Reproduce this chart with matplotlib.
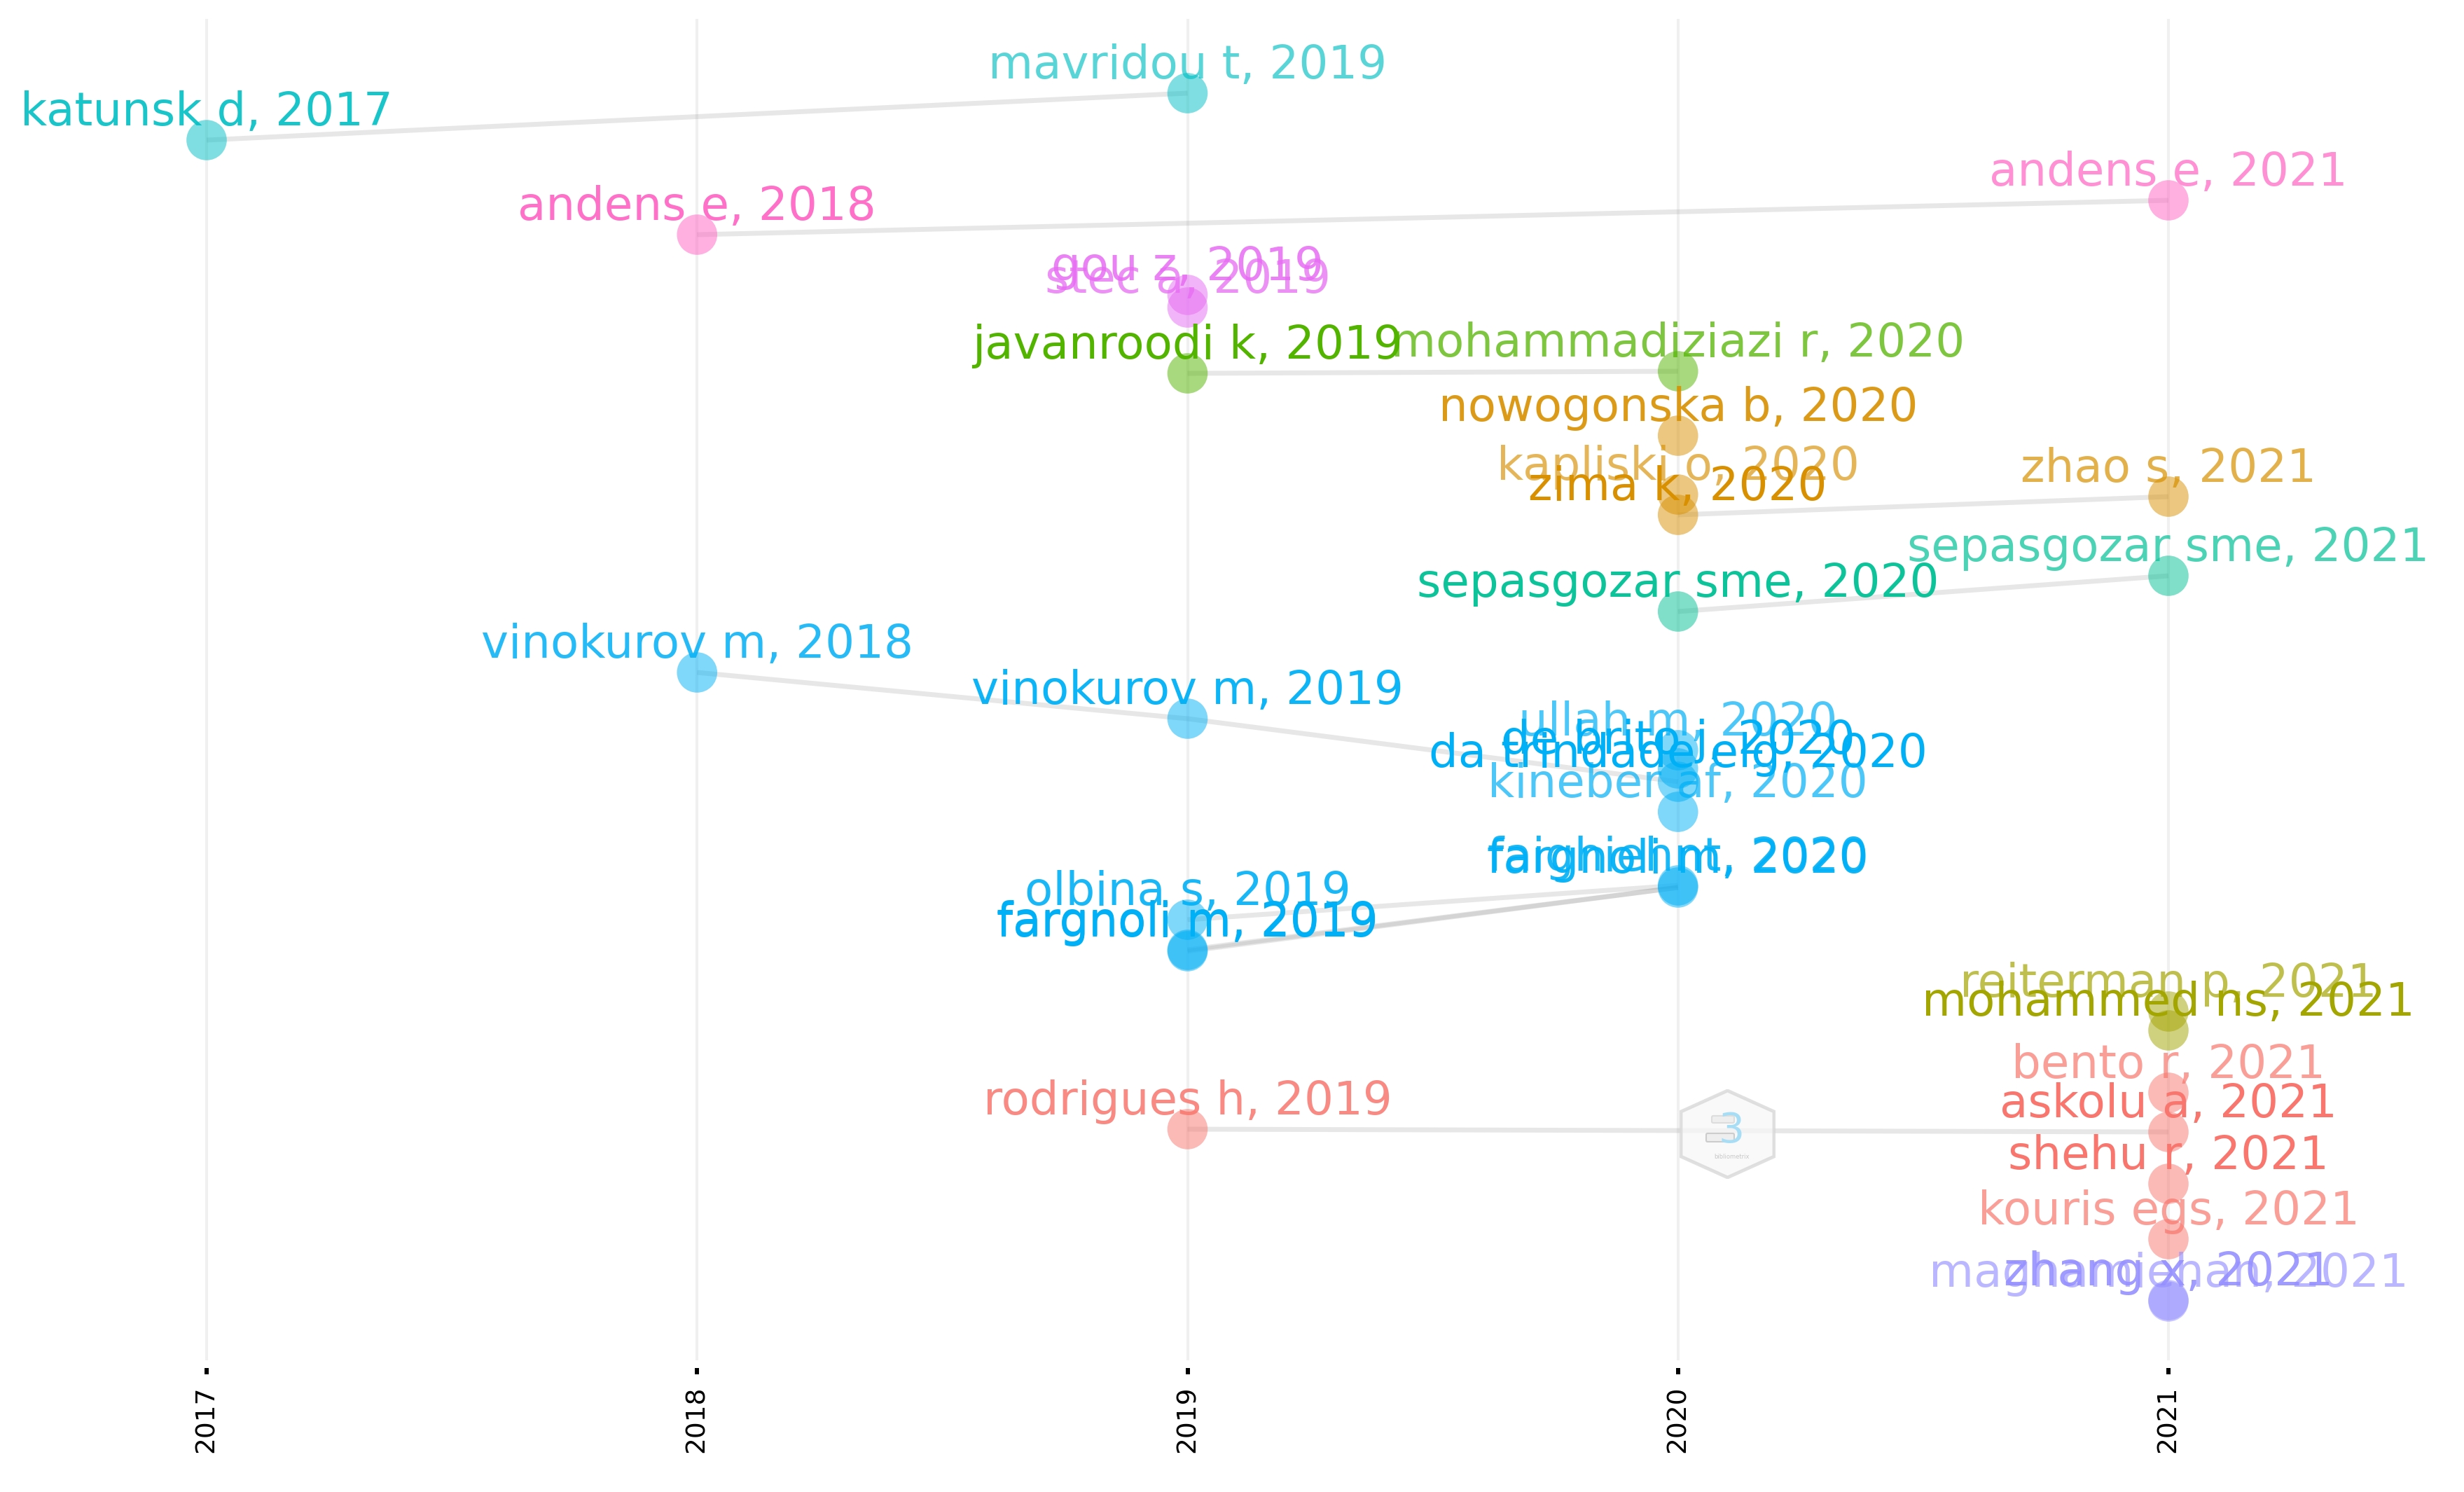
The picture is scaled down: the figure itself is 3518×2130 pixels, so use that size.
import matplotlib
matplotlib.use('Agg')
import matplotlib.pyplot as plt
from matplotlib.patches import Polygon, FancyBboxPatch

# node tables: label, publication year, layout position (picture px), colour, label alpha
labels = ['katunsk d, 2017', 'mavridou t, 2019', 'andens e, 2018', 'andens e, 2021',
          'gou z, 2019', 'stec a, 2019', 'javanroodi k, 2019', 'mohammadiziazi r, 2020',
          'nowogonska b, 2020', 'kapliski o, 2020', 'zima k, 2020', 'zhao s, 2021',
          'sepasgozar sme, 2020', 'sepasgozar sme, 2021', 'vinokurov m, 2018', 'vinokurov m, 2019',
          'ullah m, 2020', 'de brito j, 2020', 'da trindade elg, 2020', 'kineber af, 2020',
          'fargnoli m, 2020', 'faighiehnt, 2020', 'olbina s, 2019', 'fargnoli m, 2019',
          'fargnoli m, 2019', 'reiterman p, 2021', 'mohammed ns, 2021', 'rodrigues h, 2019',
          'bento r, 2021', 'askolu a, 2021', 'shehu r, 2021', 'kouris egs, 2021',
          'zhang x, 2021', 'maghamiehan, 2021']
years = [2017, 2019, 2018, 2021, 2019, 2019, 2019, 2020, 2020, 2020, 2020, 2021,
         2020, 2021, 2018, 2019, 2020, 2020, 2020, 2020, 2020, 2020, 2019, 2019,
         2019, 2021, 2021, 2019, 2021, 2021, 2021, 2021, 2021, 2021]
ypos = [200, 133, 335, 286, 421, 439, 533, 530, 622, 706, 735, 709,
        873, 822, 960, 1026, 1071, 1097, 1116, 1159, 1267, 1264, 1313, 1356,
        1358, 1444, 1471, 1612, 1560, 1616, 1690, 1769, 1856, 1858]
colors = ['#00BFC4', '#00BFC4', '#FF61C3', '#FF61C3', '#E76BF3', '#E76BF3', '#53B400', '#53B400',
          '#D89000', '#D89000', '#D89000', '#D89000', '#00C094', '#00C094', '#00B0F6', '#00B0F6',
          '#00B0F6', '#00B0F6', '#00B0F6', '#00B0F6', '#00B0F6', '#00B0F6', '#00B0F6', '#00B0F6',
          '#00B0F6', '#A3A500', '#A3A500', '#F8766D', '#F8766D', '#F8766D', '#F8766D', '#F8766D',
          '#9590FF', '#9590FF']
text_alpha = [0.9, 0.65, 0.9, 0.7, 0.85, 0.75, 1.0, 0.75, 0.9, 0.65, 1.0, 0.7,
              0.95, 0.7, 0.85, 0.95, 0.7, 1.0, 1.0, 0.7, 0.95, 0.9, 0.9, 1.0,
              1.0, 0.7, 1.0, 0.85, 0.7, 1.0, 1.0, 0.7, 0.9, 0.65]

# citation links, as index pairs into the tables above
links = [(0, 1), (2, 3), (6, 7), (10, 11), (12, 13), (14, 15), (15, 18),
         (22, 21), (23, 20), (24, 20), (27, 29)]

year_ticks = [2017, 2018, 2019, 2020, 2021]

W, H = 3518, 2130
fig = plt.figure(figsize=(W / 100, H / 100), dpi=100, facecolor='white')
# axes run from the top of the grid lines to the top of the tick marks
ax = fig.add_axes([0, (H - 1953) / H, 1, (1953 - 27) / H])
px_per_year = (3096 - 295) / 4
ax.set_xlim(2017 - 295 / px_per_year, 2021 + (W - 3096) / px_per_year)
ax.set_ylim(1953, 27)

ax.vlines(year_ticks, 27, 1942, color='#f0f0f0', linewidth=2.9, zorder=1)

for a, b in links:
    ax.plot([years[a], years[b]], [ypos[a], ypos[b]], color='#888888', alpha=0.2,
            linewidth=5, solid_capstyle='butt', zorder=2)

ax.scatter(years, ypos, s=1720, c=colors, alpha=0.5, linewidths=0, zorder=3)

for lab, yr, yp, col, al in zip(labels, years, ypos, colors, text_alpha):
    ax.annotate(lab, (yr, yp), xytext=(0, 15), textcoords='offset points', ha='center',
                va='baseline', fontsize=47.4, color=col, alpha=al, zorder=4)

ax.set_xticks(year_ticks)
ax.set_xticklabels(year_ticks, rotation=90, fontsize=27)
ax.set_yticks([])
ax.tick_params(axis='x', length=6.5, width=4.3, color='black', pad=12)
for s in ax.spines.values():
    s.set_visible(False)
ax.patch.set_alpha(0)

# bibliometrix logo
logo = fig.add_axes([2398 / W, (H - 1683) / H, 137 / W, 128 / H])
logo.set_xlim(0, 137)
logo.set_ylim(128, 0)
logo.axis('off')
hex_pts = [(68.5, 2), (135, 32), (135, 96), (68.5, 126), (2, 96), (2, 32)]
logo.add_patch(Polygon(hex_pts, closed=True, facecolor='#f7f7f7', edgecolor='#d6d6d6', linewidth=3.5, alpha=0.75))
logo.text(74, 60, '3', fontsize=42, color='#a8def5', ha='center', va='center')
logo.add_patch(FancyBboxPatch((48, 40), 28, 6, boxstyle='round,pad=2', facecolor='#eeeeee', edgecolor='#dddddd', linewidth=1.5))
logo.add_patch(FancyBboxPatch((40, 65), 36, 8, boxstyle='round,pad=2', facecolor='#eeeeee', edgecolor='#cccccc', linewidth=1.5))
logo.text(75, 96, 'bibliometrix', fontsize=6, color='#c8c8c8', ha='center', va='center')

fig.savefig('out.png', dpi=100, facecolor='white')
